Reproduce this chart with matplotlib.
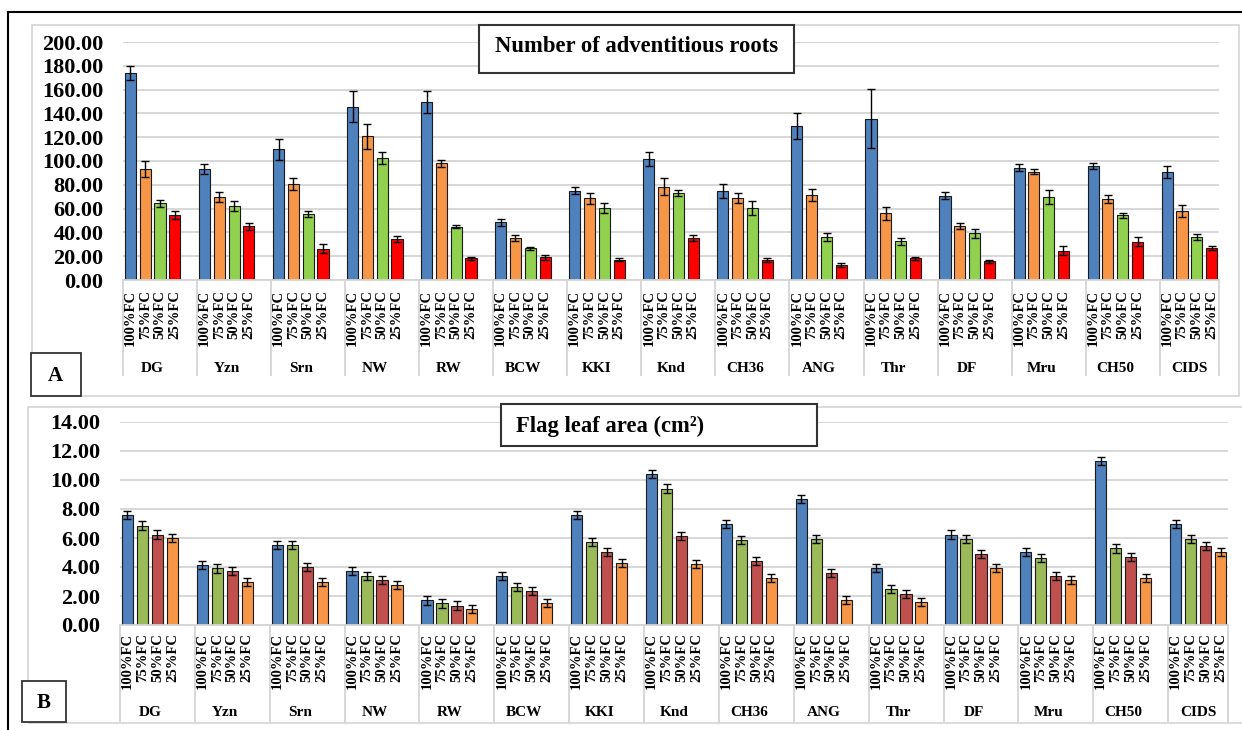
import matplotlib
matplotlib.use("Agg")
import matplotlib.pyplot as plt
from matplotlib.patches import Rectangle
from matplotlib.lines import Line2D
import numpy as np

plt.rcParams["font.family"] = ["Liberation Serif", "DejaVu Serif"]
plt.rcParams["font.weight"] = "bold"

genotypes = ["DG", "Yzn", "Srn", "NW", "RW", "BCW", "KKI", "Knd", "CH36",
             "ANG", "Thr", "DF", "Mru", "CH50", "CIDS"]
treatments = ["100%FC", "75%FC", "50%FC", "25%FC"]

# Number of adventitious roots (mean and SE)
roots_100 = [174.0, 93.4, 109.7, 145.5, 149.7, 48.4, 75.0, 101.5, 75.0, 129.5, 135.7, 70.8, 94.3, 95.9, 90.9]
roots_75 = [93.4, 69.9, 80.3, 120.8, 98.2, 35.0, 68.5, 78.3, 68.8, 71.8, 55.9, 45.6, 90.9, 68.0, 58.2]
roots_50 = [64.6, 62.1, 55.1, 102.7, 44.8, 26.6, 60.4, 73.3, 60.7, 36.1, 32.4, 39.2, 69.9, 54.3, 36.4]
roots_25 = [54.5, 45.3, 26.3, 34.7, 18.2, 19.0, 17.1, 35.5, 16.8, 12.6, 18.2, 15.7, 24.6, 32.2, 26.9]
roots_se_100 = [6.0, 4.0, 9.0, 13.0, 9.0, 3.0, 3.0, 6.0, 6.0, 11.0, 25.0, 3.0, 3.0, 2.5, 5.0]
roots_se_75 = [7.0, 4.0, 5.0, 10.5, 3.0, 2.5, 5.0, 7.0, 4.5, 5.0, 5.5, 2.5, 2.0, 3.5, 5.0]
roots_se_50 = [3.0, 4.5, 2.5, 5.0, 1.5, 1.5, 4.0, 2.5, 6.0, 3.0, 3.0, 3.5, 6.0, 2.0, 2.5]
roots_se_25 = [3.5, 3.0, 4.0, 2.5, 1.5, 2.0, 1.5, 2.5, 1.5, 1.5, 1.0, 1.2, 4.0, 4.0, 2.0]

# Flag leaf area, cm2 (mean and SE)
leaf_100 = [7.60, 4.11, 5.51, 3.70, 1.70, 3.40, 7.57, 10.40, 6.98, 8.70, 3.95, 6.24, 5.05, 11.30, 6.98]
leaf_75 = [6.86, 3.90, 5.49, 3.35, 1.49, 2.64, 5.74, 9.41, 5.85, 5.92, 2.46, 5.95, 4.64, 5.28, 5.95]
leaf_50 = [6.24, 3.72, 3.97, 3.08, 1.33, 2.36, 5.05, 6.11, 4.41, 3.56, 2.14, 4.91, 3.40, 4.66, 5.46]
leaf_25 = [5.97, 2.96, 2.96, 2.75, 1.10, 1.51, 4.27, 4.20, 3.26, 1.72, 1.58, 3.95, 3.08, 3.24, 5.05]
leaf_se_100 = [0.28, 0.28, 0.28, 0.28, 0.30, 0.28, 0.28, 0.28, 0.28, 0.28, 0.28, 0.28, 0.28, 0.28, 0.28]
leaf_se_75 = [0.28, 0.28, 0.28, 0.28, 0.30, 0.28, 0.28, 0.28, 0.28, 0.28, 0.28, 0.28, 0.28, 0.28, 0.28]
leaf_se_50 = [0.28, 0.28, 0.28, 0.28, 0.30, 0.28, 0.28, 0.28, 0.28, 0.28, 0.28, 0.28, 0.28, 0.28, 0.28]
leaf_se_25 = [0.28, 0.28, 0.28, 0.28, 0.28, 0.28, 0.28, 0.28, 0.28, 0.28, 0.28, 0.28, 0.28, 0.28, 0.28]

colors_a = ["#4F81BD", "#F79646", "#92D050", "#FF0000"]
colors_b = ["#4F81BD", "#9BBB59", "#C0504D", "#F79646"]

W, H = 1242, 730
fig = plt.figure(figsize=(W / 100, H / 100), dpi=100)
GRID = "#D4D4D4"


def px_axes(left, top, right, bottom):
    return fig.add_axes([left / W, 1 - bottom / H, (right - left) / W, (bottom - top) / H])


def px_rect(x0, y0, x1, y1, **kw):
    r = Rectangle((x0 / W, 1 - y1 / H), (x1 - x0) / W, (y1 - y0) / H,
                  transform=fig.transFigure, **kw)
    fig.add_artist(r)
    return r


def draw_panel(ax, means, errs, colors, ymax, ystep, sep_bottom, name_y, label_pad):
    n = len(genotypes)
    for j, (vals, se, c) in enumerate(zip(means, errs, colors)):
        x = np.arange(n) + 0.1 + 0.2 * j
        ax.bar(x, vals, width=0.15, color=c, edgecolor="#1a1a1a", linewidth=0.8, zorder=2)
        ax.errorbar(x, vals, yerr=se, fmt="none", ecolor="black", elinewidth=1.0,
                    capsize=3.2, capthick=1.0, zorder=3)
    ax.set_xlim(0, 14.8)
    ax.set_ylim(0, ymax)
    yt = np.arange(0, ymax + ystep / 2, ystep)
    ax.set_yticks(yt)
    ax.set_yticklabels([f"{v:.2f}" for v in yt], fontsize=16, fontweight="bold")
    ax.yaxis.grid(True, color=GRID, linewidth=1.3, zorder=0)
    ax.set_axisbelow(True)
    ax.tick_params(axis="y", length=0, pad=14)
    ticks = [g + 0.1 + 0.2 * j for g in range(n) for j in range(4)]
    ax.set_xticks(ticks)
    ax.set_xticklabels(treatments * n, rotation=90, fontsize=10.5, fontweight="bold",
                       va="top", ha="center")
    ax.tick_params(axis="x", length=0, pad=label_pad)
    for s in ["top", "right", "left"]:
        ax.spines[s].set_visible(False)
    ax.spines["bottom"].set_color(GRID)
    ax.spines["bottom"].set_linewidth(1.3)
    ax.set_facecolor("none")
    trans = ax.get_xaxis_transform()
    for xs in list(range(n)) + [14.8]:
        ax.add_line(Line2D([xs, xs], [0, sep_bottom], transform=trans, color=GRID,
                           linewidth=1.3, clip_on=False))
    for g, name in enumerate(genotypes):
        ax.text(g + 0.4, name_y, name, transform=trans, ha="center", va="center",
                fontsize=11, fontweight="bold")


# outer frame (top and left edges)
fig.add_artist(Line2D([8 / W, 1], [1 - 12 / H, 1 - 12 / H], transform=fig.transFigure,
                      color="black", linewidth=1.5))
fig.add_artist(Line2D([8 / W, 8 / W], [0, 1 - 12 / H], transform=fig.transFigure,
                      color="black", linewidth=1.5))

# chart area borders
px_rect(32, 25, 1239, 396, fill=False, edgecolor=GRID, linewidth=1.2, zorder=-1)
px_rect(28, 407, 1250, 723, fill=False, edgecolor=GRID, linewidth=1.2, zorder=-1)

# panel A: adventitious roots
ax_a = px_axes(123, 42, 1219, 280)
draw_panel(ax_a, [roots_100, roots_75, roots_50, roots_25],
           [roots_se_100, roots_se_75, roots_se_50, roots_se_25],
           colors_a, 200, 20, (280 - 375) / 238, (280 - 368) / 238, 7)

# panel B: flag leaf area
ax_b = px_axes(120, 422, 1228, 625)
draw_panel(ax_b, [leaf_100, leaf_75, leaf_50, leaf_25],
           [leaf_se_100, leaf_se_75, leaf_se_50, leaf_se_25],
           colors_b, 14, 2, (625 - 722) / 203, (625 - 712) / 203, 6)

# title boxes
px_rect(479, 25, 794, 73, facecolor="white", edgecolor="#333333", linewidth=1.5, zorder=5)
fig.text((479 + 794) / 2 / W, 1 - 47 / H, "Number of adventitious roots", ha="center",
         va="center", fontsize=16.3, fontweight="bold", zorder=6)
px_rect(501, 404, 817, 446, facecolor="white", edgecolor="#333333", linewidth=1.5, zorder=5)
fig.text(516 / W, 1 - 426 / H, "Flag leaf area (cm²)", ha="left", va="center",
         fontsize=16.3, fontweight="bold", zorder=6)

# panel letters
px_rect(31, 353, 81, 396, facecolor="white", edgecolor="#333333", linewidth=1.3, zorder=5)
fig.text(55 / W, 1 - 376 / H, "A", ha="center", va="center", fontsize=15,
         fontweight="bold", zorder=6)
px_rect(22, 681, 66, 722, facecolor="white", edgecolor="#333333", linewidth=1.3, zorder=5)
fig.text(44 / W, 1 - 703 / H, "B", ha="center", va="center", fontsize=15,
         fontweight="bold", zorder=6)

fig.savefig("out.png", dpi=100)
